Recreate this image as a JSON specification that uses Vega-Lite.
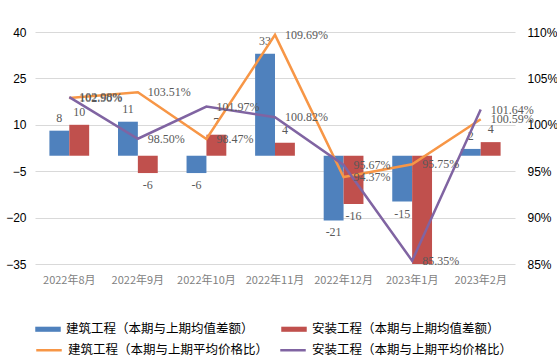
{
  "$schema": "https://vega.github.io/schema/vega-lite/v6.json",
  "autosize": {"type": "none"},
  "width": 480,
  "height": 232,
  "padding": {"left": 35, "top": 32, "right": 42, "bottom": 96},
  "background": "white",
  "config": {"view": {"stroke": null}, "font": "Liberation Sans"},
  "datasets": {
    "bars": [
      {"month": "2022年8月", "series": "建筑工程（本期与上期均值差额）", "value": 8.1},
      {"month": "2022年8月", "series": "安装工程（本期与上期均值差额）", "value": 10},
      {"month": "2022年9月", "series": "建筑工程（本期与上期均值差额）", "value": 11},
      {"month": "2022年9月", "series": "安装工程（本期与上期均值差额）", "value": -5.6},
      {"month": "2022年10月", "series": "建筑工程（本期与上期均值差额）", "value": -5.6},
      {"month": "2022年10月", "series": "安装工程（本期与上期均值差额）", "value": 6.8},
      {"month": "2022年11月", "series": "建筑工程（本期与上期均值差额）", "value": 33},
      {"month": "2022年11月", "series": "安装工程（本期与上期均值差额）", "value": 4.2},
      {"month": "2022年12月", "series": "建筑工程（本期与上期均值差额）", "value": -20.9},
      {"month": "2022年12月", "series": "安装工程（本期与上期均值差额）", "value": -15.6},
      {"month": "2023年1月", "series": "建筑工程（本期与上期均值差额）", "value": -14.8},
      {"month": "2023年1月", "series": "安装工程（本期与上期均值差额）", "value": -35},
      {"month": "2023年2月", "series": "建筑工程（本期与上期均值差额）", "value": 2.2},
      {"month": "2023年2月", "series": "安装工程（本期与上期均值差额）", "value": 4.4}
    ],
    "lines": [
      {"month": "2022年8月", "series": "建筑工程（本期与上期平均价格比）", "ratio": 1.0290},
      {"month": "2022年9月", "series": "建筑工程（本期与上期平均价格比）", "ratio": 1.0351},
      {"month": "2022年10月", "series": "建筑工程（本期与上期平均价格比）", "ratio": 0.9847},
      {"month": "2022年11月", "series": "建筑工程（本期与上期平均价格比）", "ratio": 1.0969},
      {"month": "2022年12月", "series": "建筑工程（本期与上期平均价格比）", "ratio": 0.9437},
      {"month": "2023年1月", "series": "建筑工程（本期与上期平均价格比）", "ratio": 0.9575},
      {"month": "2023年2月", "series": "建筑工程（本期与上期平均价格比）", "ratio": 1.0059},
      {"month": "2022年8月", "series": "安装工程（本期与上期平均价格比）", "ratio": 1.0298},
      {"month": "2022年9月", "series": "安装工程（本期与上期平均价格比）", "ratio": 0.9850},
      {"month": "2022年10月", "series": "安装工程（本期与上期平均价格比）", "ratio": 1.0197},
      {"month": "2022年11月", "series": "安装工程（本期与上期平均价格比）", "ratio": 1.0082},
      {"month": "2022年12月", "series": "安装工程（本期与上期平均价格比）", "ratio": 0.9567},
      {"month": "2023年1月", "series": "安装工程（本期与上期平均价格比）", "ratio": 0.8535},
      {"month": "2023年2月", "series": "安装工程（本期与上期平均价格比）", "ratio": 1.0164}
    ]
  },
  "layer": [
    {
      "data": {"name": "bars"},
      "encoding": {
        "x": {
          "field": "month", "type": "nominal",
          "scale": {"domain": ["2022年8月", "2022年9月", "2022年10月", "2022年11月", "2022年12月", "2023年1月", "2023年2月"], "paddingInner": 0.42, "paddingOuter": 0.21},
          "axis": {"title": null, "labelAngle": 0, "ticks": false, "domain": false, "labelPadding": 10, "labelFont": "Noto Sans CJK SC", "labelFontSize": 11, "labelColor": "#7F7F7F"}
        },
        "xOffset": {
          "field": "series", "type": "nominal",
          "scale": {"domain": ["建筑工程（本期与上期均值差额）", "安装工程（本期与上期均值差额）"], "paddingInner": 0, "paddingOuter": 0}
        },
        "y": {
          "field": "value", "type": "quantitative",
          "scale": {"domain": [-35, 40], "nice": false, "zero": false},
          "axis": {"title": null, "values": [-35, -20, -5, 10, 25, 40], "grid": true, "gridColor": "#D9D9D9", "domain": false, "ticks": false, "labelPadding": 9, "labelFontSize": 12, "labelColor": "#000000", "labelExpr": "replace(datum.label, '-', '−')"}
        }
      },
      "layer": [
        {
          "mark": {"type": "bar"},
          "encoding": {
            "fill": {
              "field": "series", "type": "nominal",
              "scale": {"domain": ["建筑工程（本期与上期均值差额）", "安装工程（本期与上期均值差额）"], "range": ["#4F81BD", "#C0504D"]},
              "legend": {"title": null, "orient": "none", "legendX": 0, "legendY": 284, "direction": "horizontal", "symbolType": "M-1,-0.2H1V0.2H-1Z", "symbolSize": 650, "symbolStrokeWidth": 0, "labelFont": "Noto Sans CJK SC", "labelFontSize": 12.5, "labelColor": "#000000", "labelOffset": 5, "columnPadding": 27, "labelLimit": 400}
            }
          }
        },
        {
          "transform": [{"filter": "datum.value >= 0"}, {"calculate": "replace(format(datum.value, '.0f'), '−', '-')", "as": "lbl"}],
          "mark": {"type": "text", "baseline": "bottom", "dy": -6, "font": "Liberation Serif", "fontSize": 12, "color": "#595959"},
          "encoding": {"text": {"field": "lbl", "type": "nominal"}}
        },
        {
          "transform": [{"filter": "datum.value < 0 && datum.value > -35"}, {"calculate": "replace(format(datum.value, '.0f'), '−', '-')", "as": "lbl"}],
          "mark": {"type": "text", "baseline": "top", "dy": 7, "font": "Liberation Serif", "fontSize": 12, "color": "#595959"},
          "encoding": {"text": {"field": "lbl", "type": "nominal"}}
        }
      ]
    },
    {
      "data": {"name": "lines"},
      "encoding": {
        "x": {"field": "month", "type": "nominal"},
        "y": {
          "field": "ratio", "type": "quantitative",
          "scale": {"domain": [0.85, 1.10], "nice": false, "zero": false},
          "axis": {"title": null, "orient": "right", "values": [0.85, 0.9, 0.95, 1.0, 1.05, 1.1], "format": ".0%", "grid": false, "domain": false, "ticks": false, "labelPadding": 12, "labelFontSize": 12, "labelColor": "#000000"}
        }
      },
      "layer": [
        {
          "mark": {"type": "line", "strokeWidth": 2.5},
          "encoding": {
            "stroke": {
              "field": "series", "type": "nominal",
              "scale": {"domain": ["建筑工程（本期与上期平均价格比）", "安装工程（本期与上期平均价格比）"], "range": ["#F79646", "#8064A2"]},
              "legend": {"title": null, "orient": "none", "legendX": 0, "legendY": 304, "direction": "horizontal", "symbolType": "stroke", "symbolSize": 650, "symbolStrokeWidth": 2.5, "labelFont": "Noto Sans CJK SC", "labelFontSize": 12.5, "labelColor": "#000000", "labelOffset": 5, "columnPadding": 6, "labelLimit": 400}
            }
          }
        },
        {
          "mark": {"type": "text", "align": "left", "baseline": "middle", "dx": 10, "font": "Liberation Serif", "fontSize": 12, "color": "#595959"},
          "encoding": {"text": {"field": "ratio", "type": "quantitative", "format": ".2%"}}
        }
      ]
    }
  ],
  "resolve": {"scale": {"y": "independent"}}
}
